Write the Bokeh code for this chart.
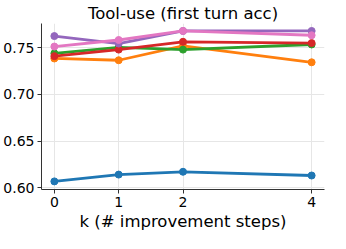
from bokeh.plotting import figure
from bokeh.models import Range1d, FixedTicker, NumeralTickFormatter
from bokeh.embed import file_html
from bokeh.resources import INLINE

steps = [0, 1, 2, 4]
series_blue = [0.6067, 0.6140, 0.6170, 0.6130]
series_orange = [0.7385, 0.7366, 0.7520, 0.7344]
series_green = [0.7440, 0.7503, 0.7480, 0.7535]
series_red = [0.7410, 0.7480, 0.7564, 0.7550]
series_purple = [0.7625, 0.7545, 0.7680, 0.7680]
series_pink = [0.7513, 0.7583, 0.7680, 0.7634]
y_ticks = [0.60, 0.65, 0.70, 0.75]
title_text = "Tool-use (first turn acc)"
xlabel_text = "k (# improvement steps)"

colors = ["#1f77b4", "#ff7f0e", "#2ca02c", "#d62728", "#9467bd", "#e377c2"]
all_series = [series_blue, series_orange, series_green, series_red, series_purple, series_pink]

FONT = "DejaVu Sans"
p = figure(width=330, height=233, output_backend="svg", toolbar_location=None,
           x_range=Range1d(-0.2, 4.2), y_range=Range1d(0.598, 0.776),
           min_border_left=30, min_border_right=6, min_border_top=0, min_border_bottom=0)
p.outline_line_color = None
p.background_fill_color = "white"

p.title.text = title_text
p.title.align = "center"
p.title.text_font = FONT
p.title.text_font_size = "16.5px"
p.title.text_font_style = "normal"
p.title.text_color = "black"
p.title.standoff = 2

for s, c in zip(all_series, colors):
    p.line(steps, s, line_color=c, line_width=2.8)
    p.scatter(steps, s, size=7, fill_color=c, line_color=c)

for ax in (p.xaxis[0], p.yaxis[0]):
    ax.axis_line_color = "#333333"
    ax.major_tick_line_color = "#333333"
    ax.minor_tick_line_color = None
    ax.major_tick_out = 4
    ax.major_tick_in = 0
    ax.major_label_text_font = FONT
    ax.major_label_text_font_size = "14px"
    ax.major_label_text_color = "black"
    ax.major_label_standoff = 3

p.xaxis.axis_label = xlabel_text
p.xaxis.axis_label_text_font = FONT
p.xaxis.axis_label_text_font_size = "16.5px"
p.xaxis.axis_label_text_font_style = "normal"
p.xaxis.axis_label_text_color = "black"
p.xaxis.axis_label_standoff = 2

p.xaxis.ticker = FixedTicker(ticks=steps)
p.yaxis.ticker = FixedTicker(ticks=y_ticks)
p.yaxis.formatter = NumeralTickFormatter(format="0.00")

p.grid.grid_line_color = "#e6e6e6"
p.grid.grid_line_width = 1

open("out.html", "w").write(file_html(p, INLINE))
